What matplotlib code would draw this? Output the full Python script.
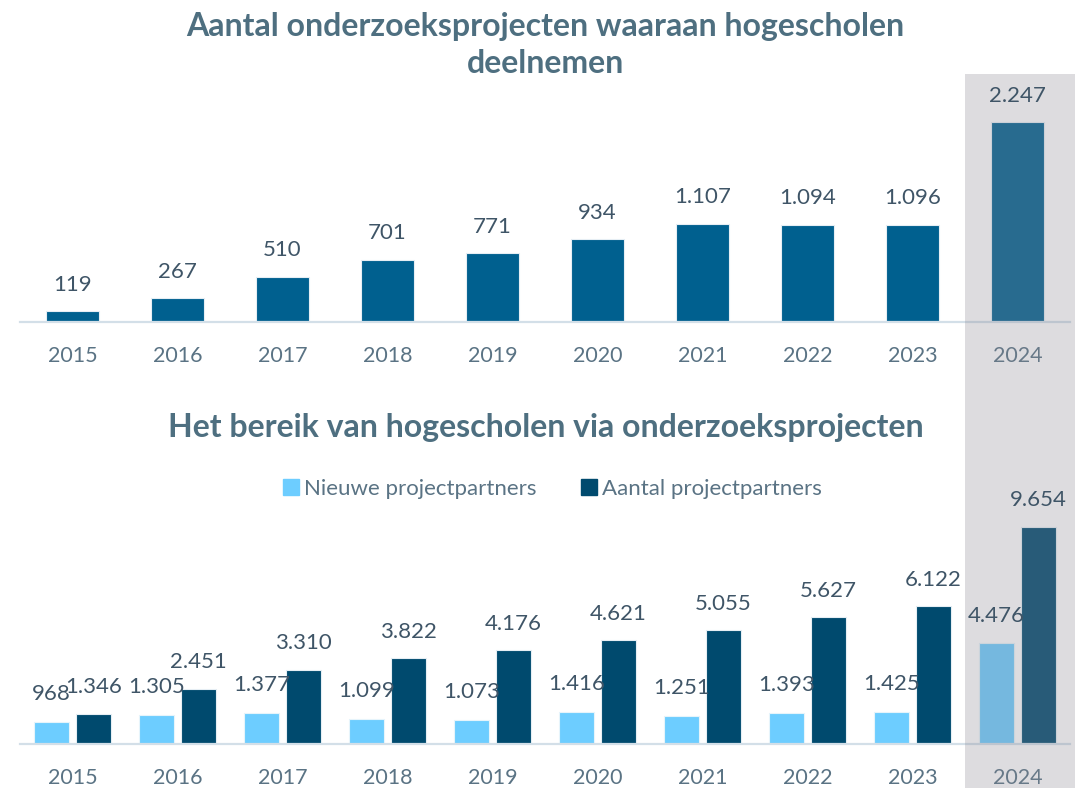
import matplotlib
matplotlib.use("Agg")
import matplotlib.pyplot as plt
from matplotlib.patches import Rectangle
from matplotlib.lines import Line2D
import numpy as np

plt.rcParams['font.family'] = ['Lato', 'DejaVu Sans']

years = ['2015', '2016', '2017', '2018', '2019', '2020', '2021', '2022', '2023', '2024']
projecten = [119, 267, 510, 701, 771, 934, 1107, 1094, 1096, 2247]
nieuwe_partners = [968, 1305, 1377, 1099, 1073, 1416, 1251, 1393, 1425, 4476]
aantal_partners = [1346, 2451, 3310, 3822, 4176, 4621, 5055, 5627, 6122, 9654]

title_top = 'Aantal onderzoeksprojecten waaraan hogescholen\ndeelnemen'
title_bottom = 'Het bereik van hogescholen via onderzoeksprojecten'
legend_labels = ['Nieuwe projectpartners', 'Aantal projectpartners']

C_TOP = '#00608f'
C_LIGHT = '#6dcdff'
C_DARK = '#004a6e'
C_TITLE = '#4e6f80'
C_TICK = '#5a7384'
C_VAL = '#3f5567'
C_AXIS = '#d3dfe8'
OVER = (138/255, 136/255, 146/255)
OVER_A = 0.29

W, H = 1084, 788
fig = plt.figure(figsize=(W/100, H/100), dpi=100)
fig.patch.set_facecolor('white')

def fmt(v):
    return f"{v:,}".replace(',', '.')

def px_axes(x0, x1, ytop, ybase):
    return fig.add_axes([x0/W, 1 - ybase/H, (x1-x0)/W, (ybase-ytop)/H])

x = np.arange(len(years))
VAL_FS = 16

# ---- top chart
ax1 = px_axes(20, 1070, 82, 322)
ax1.set_facecolor('none')
ax1.bar(x, projecten, width=0.5, color=C_TOP, edgecolor='#e6eef4', linewidth=0.8, zorder=2)
ax1.set_xlim(-0.5, len(years) - 0.5)
ax1.set_ylim(0, 2700)
for xi, v in zip(x, projecten):
    ax1.annotate(fmt(v), (xi, v), xytext=(0, 19), textcoords='offset points',
                 ha='center', va='center', fontsize=VAL_FS, color=C_VAL, zorder=4)

# ---- bottom chart
ax2 = px_axes(20, 1070, 510, 744)
ax2.set_facecolor('none')
ax2.bar(x - 0.2, nieuwe_partners, width=0.33, color=C_LIGHT, edgecolor='#e6f4fb', linewidth=0.8, zorder=2)
ax2.bar(x + 0.2, aantal_partners, width=0.33, color=C_DARK, edgecolor='#e6eef4', linewidth=0.8, zorder=2)
ax2.set_xlim(-0.5, len(years) - 0.5)
ax2.set_ylim(0, 10400)
for xi, v in zip(x, nieuwe_partners):
    ax2.annotate(fmt(v), (xi - 0.2, v), xytext=(0, 20), textcoords='offset points',
                 ha='center', va='center', fontsize=VAL_FS, color=C_VAL, zorder=4)
for xi, v in zip(x, aantal_partners):
    ax2.annotate(fmt(v), (xi + 0.2, v), xytext=(0, 19), textcoords='offset points',
                 ha='center', va='center', fontsize=VAL_FS, color=C_VAL, zorder=4)

for ax in (ax1, ax2):
    for s in ('top', 'right', 'left'):
        ax.spines[s].set_visible(False)
    ax.spines['bottom'].set_color(C_AXIS)
    ax.spines['bottom'].set_linewidth(1.6)
    ax.set_yticks([])
    ax.set_xticks(x)
    ax.set_xticklabels(years)
    ax.tick_params(axis='x', length=0, pad=17, labelsize=15.5, labelcolor=C_TICK)

# ---- highlight band for 2024 (two parts, one per axes)
split = 395
ax1.add_patch(Rectangle((965/W, 1 - split/H), 110/W, (split-74)/H, transform=fig.transFigure,
                        facecolor=OVER, alpha=OVER_A, edgecolor='none', clip_on=False,
                        zorder=3, antialiased=False))
ax2.add_patch(Rectangle((965/W, 0), 110/W, 1 - split/H, transform=fig.transFigure,
                        facecolor=OVER, alpha=OVER_A, edgecolor='none', clip_on=False,
                        zorder=3, antialiased=False))

# ---- titles
fig.text(545/W, 1 - 45/H, title_top, ha='center', va='center', fontsize=23,
         fontweight='bold', color=C_TITLE, linespacing=1.35)
fig.text(546/W, 1 - 427/H, title_bottom, ha='center', va='center', fontsize=23,
         fontweight='bold', color=C_TITLE)

# ---- legend
handles = [Line2D([], [], marker='s', linestyle='none', markersize=12, color=C_LIGHT),
           Line2D([], [], marker='s', linestyle='none', markersize=12, color=C_DARK)]
leg = fig.legend(handles, legend_labels, loc='center', bbox_to_anchor=(552/W, 1 - 489/H),
                 ncol=2, frameon=False, fontsize=16, handletextpad=0.15, columnspacing=2.0,
                 handlelength=0.8, labelcolor=C_TICK)

fig.savefig('out.png', dpi=100, facecolor='white')
